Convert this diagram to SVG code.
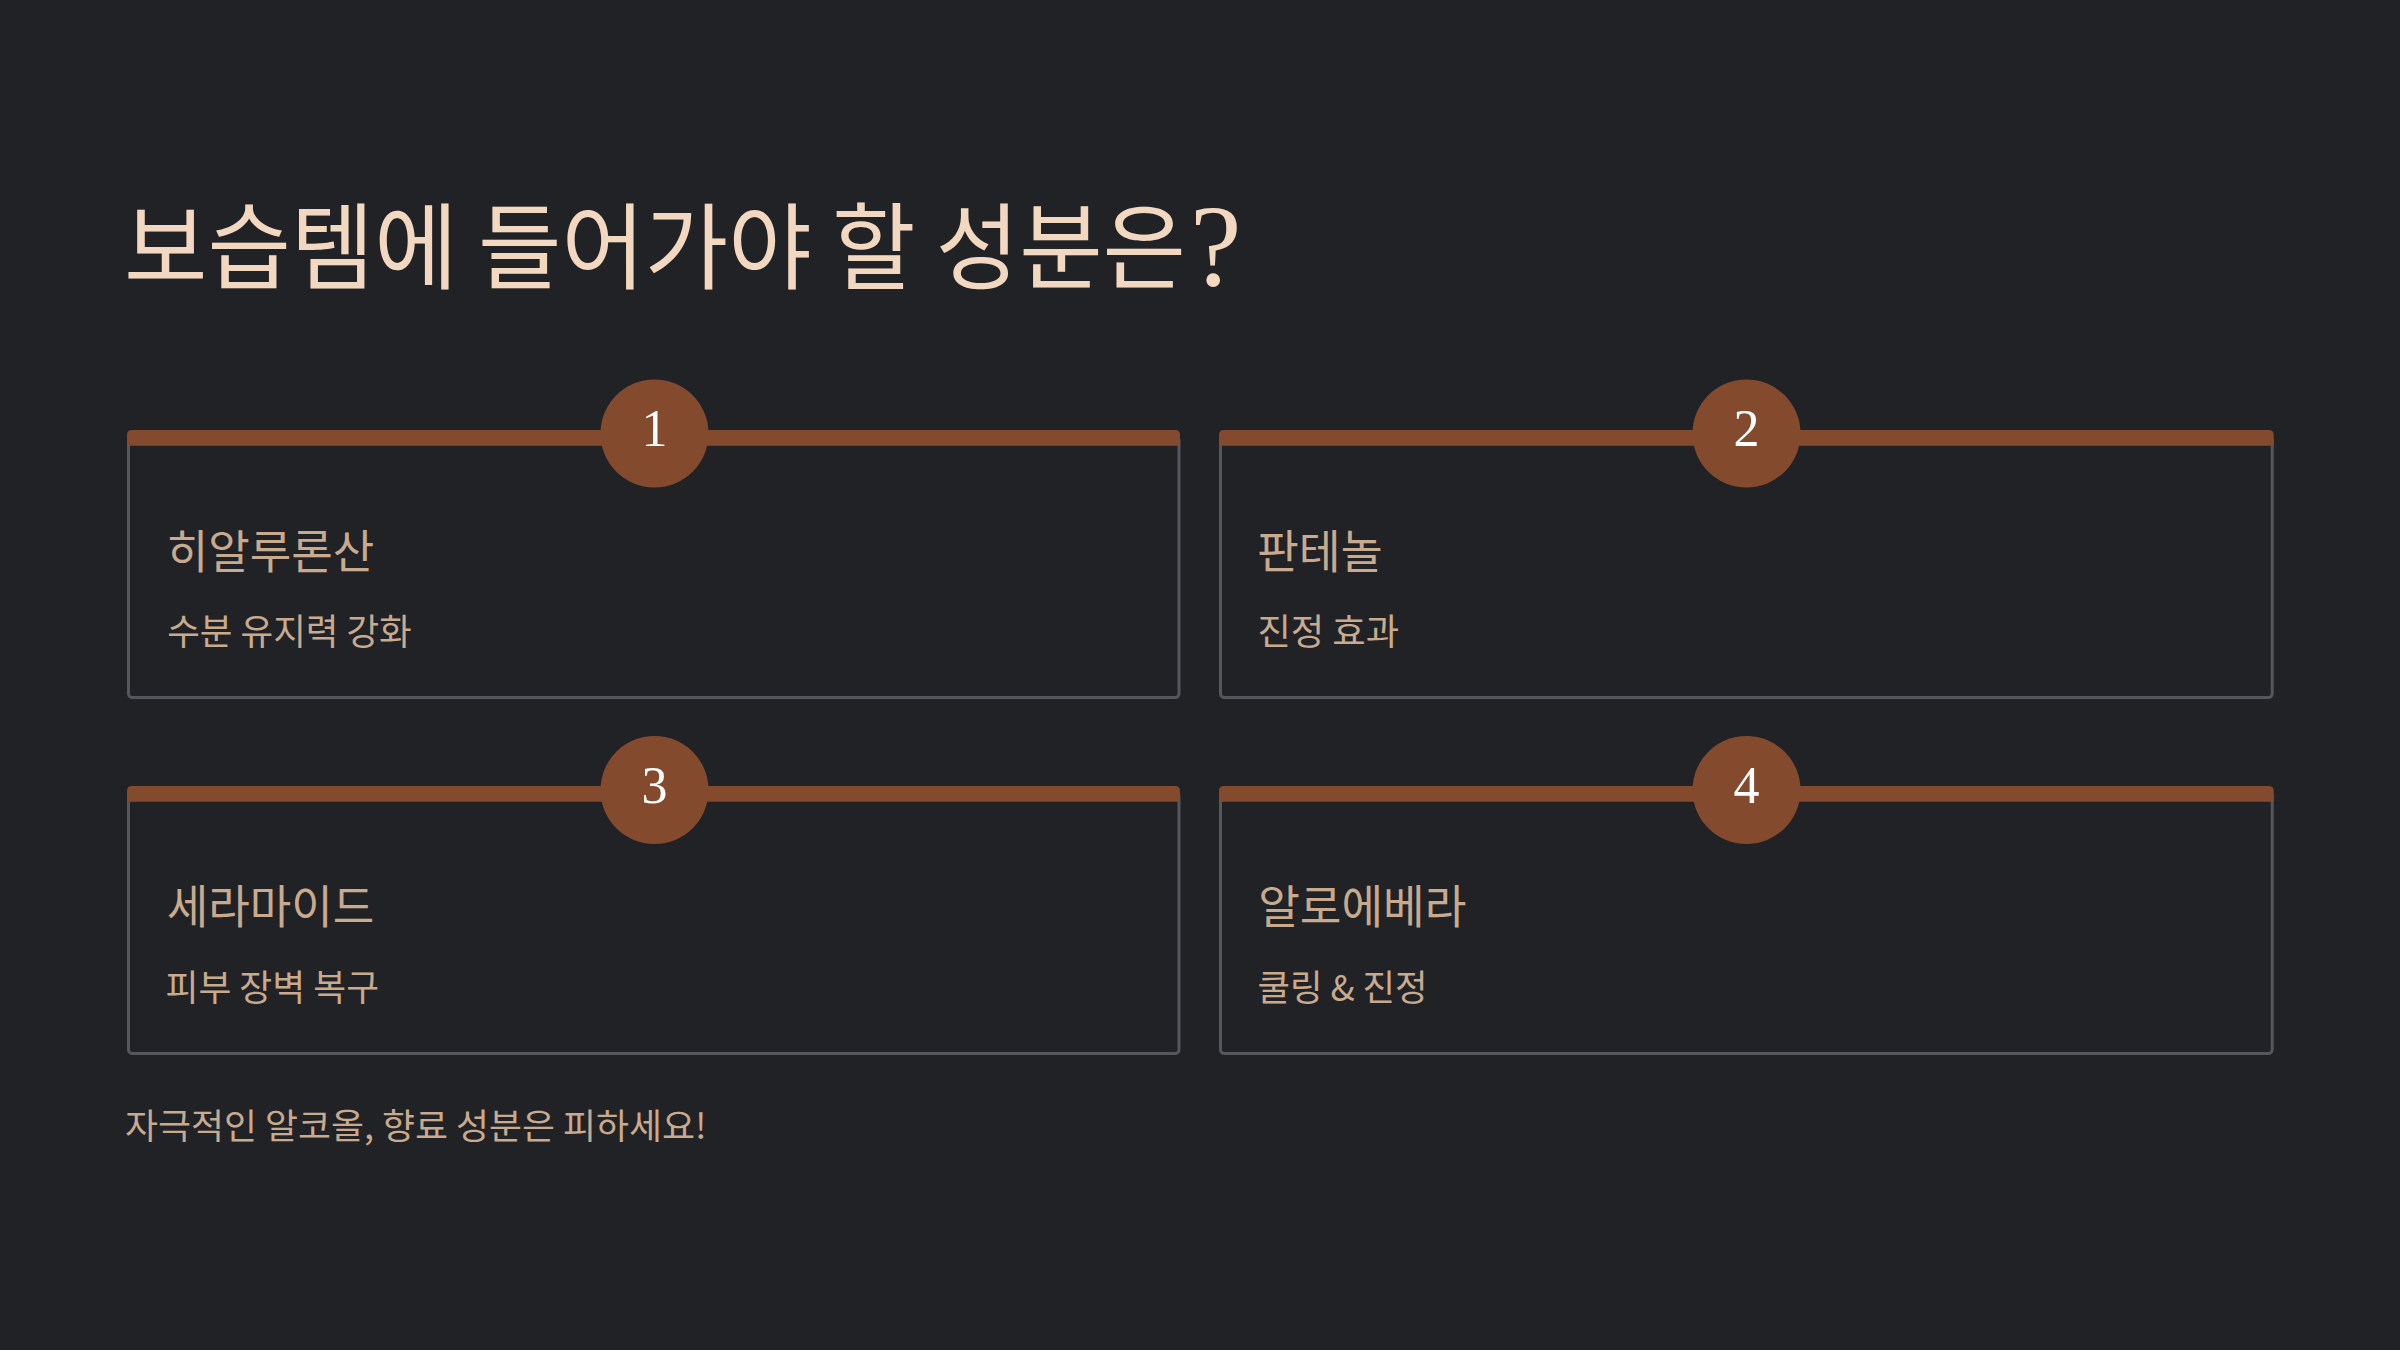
<svg xmlns="http://www.w3.org/2000/svg" width="2400" height="1350" viewBox="0 0 2400 1350">
<defs>
<style>
.bg{fill:#212226}
.box{fill:none;stroke:#55575c;stroke-width:3}
.bar{fill:#844a2e}
.dot{fill:#844a2e}
.num{font-family:"Liberation Serif","DejaVu Serif",serif;font-size:52px;fill:#ffffff;text-anchor:middle}
.title{font-family:"Noto Sans CJK KR","Noto Sans",sans-serif;font-size:94px;fill:#f2d8c0}
.qm{font-family:"Liberation Serif","DejaVu Serif",serif;font-size:116px;fill:#f2d8c0}
.head{font-family:"Noto Sans CJK KR","Noto Sans",sans-serif;font-size:46px;fill:#c8aa8f}
.sub{font-family:"Noto Sans CJK KR","Noto Sans",sans-serif;font-size:36px;fill:#c8aa8f}
.foot{font-family:"Noto Sans CJK KR","Noto Sans",sans-serif;font-size:35px;fill:#c8aa8f}
</style>
</defs>
<rect class="bg" x="0" y="0" width="2400" height="1350"/>
<g id="title">
<text class="title" transform="translate(124,282) scale(0.77,1)" x="0" y="0" textLength="1379.2" lengthAdjust="spacingAndGlyphs">보습템에 들어가야 할 성분은</text>
<text class="qm" x="1190" y="285">?</text>
</g>
<g id="connectors"></g>
<g id="card1">
<rect class="box" x="128.5" y="436" width="1050.5" height="261.5" rx="4"/>
<path class="bar" d="M127,445.7 V435 Q127,430 132,430 H1175 Q1180,430 1180,435 V445.7 Z"/>
<circle class="dot" cx="654.5" cy="433.5" r="54"/>
<text class="num" x="654.5" y="446">1</text>
<text class="head" x="166.7" y="567.5" textLength="207.6" lengthAdjust="spacingAndGlyphs">히알루론산</text>
<text class="sub" x="167.2" y="644.5" textLength="244.6" lengthAdjust="spacingAndGlyphs">수분 유지력 강화</text>
</g>
<g id="card2">
<rect class="box" x="1220.5" y="436" width="1051.7" height="261.5" rx="4"/>
<path class="bar" d="M1219,445.7 V435 Q1219,430 1224,430 H2268.7 Q2273.7,430 2273.7,435 V445.7 Z"/>
<circle class="dot" cx="1746.5" cy="433.5" r="54"/>
<text class="num" x="1746.5" y="446">2</text>
<text class="head" x="1257" y="567.5" textLength="125.6" lengthAdjust="spacingAndGlyphs">판테놀</text>
<text class="sub" x="1257.5" y="644.5" textLength="141.6" lengthAdjust="spacingAndGlyphs">진정 효과</text>
</g>
<g id="card3">
<rect class="box" x="128.5" y="792" width="1050.5" height="261.5" rx="4"/>
<path class="bar" d="M127,801.7 V791 Q127,786 132,786 H1175 Q1180,786 1180,791 V801.7 Z"/>
<circle class="dot" cx="654.5" cy="790" r="54"/>
<text class="num" x="654.5" y="803">3</text>
<text class="head" x="166.7" y="923" textLength="207.6" lengthAdjust="spacingAndGlyphs">세라마이드</text>
<text class="sub" x="165.5" y="1000.5" textLength="213.6" lengthAdjust="spacingAndGlyphs">피부 장벽 복구</text>
</g>
<g id="card4">
<rect class="box" x="1220.5" y="792" width="1051.7" height="261.5" rx="4"/>
<path class="bar" d="M1219,801.7 V791 Q1219,786 1224,786 H2268.7 Q2273.7,786 2273.7,791 V801.7 Z"/>
<circle class="dot" cx="1746.5" cy="790" r="54"/>
<text class="num" x="1746.5" y="803">4</text>
<text class="head" x="1258.2" y="923" textLength="208.2" lengthAdjust="spacingAndGlyphs">알로에베라</text>
<text class="sub" x="1257.5" y="1000.5" textLength="170" lengthAdjust="spacingAndGlyphs">쿨링 &amp; 진정</text>
</g>
<g id="footer">
<text class="foot" x="125" y="1139" textLength="581.5" lengthAdjust="spacingAndGlyphs">자극적인 알코올, 향료 성분은 피하세요!</text>
</g>
</svg>
